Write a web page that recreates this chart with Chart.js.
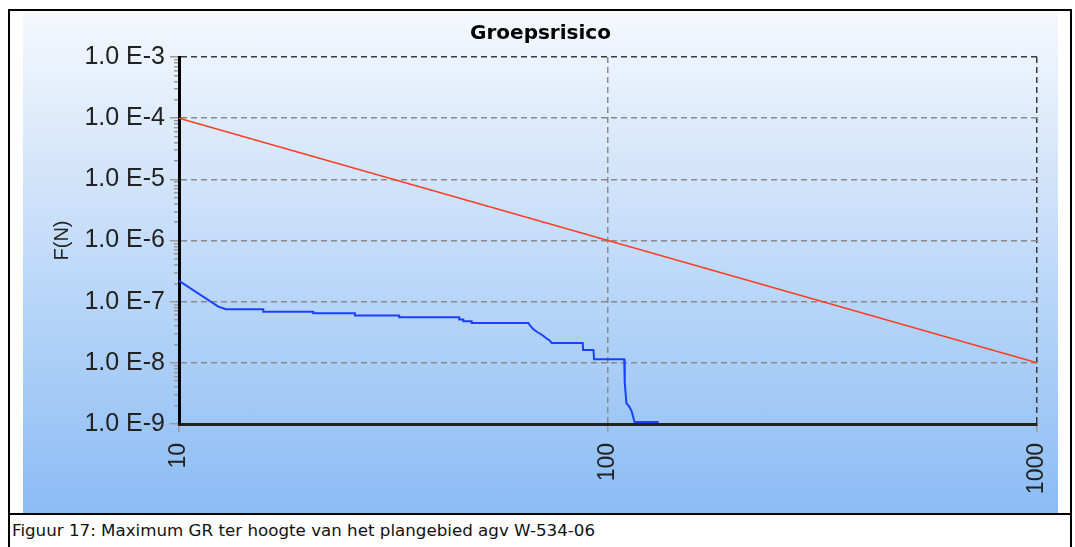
<!DOCTYPE html>
<html><head><meta charset="utf-8">
<script src="https://cdn.jsdelivr.net/npm/chart.js@4.4.1/dist/chart.umd.min.js"></script>
<style>
html,body{margin:0;padding:0;background:#fff;overflow:hidden;}
#frame{position:absolute;left:8px;top:9px;width:1064px;height:600px;border:2px solid #000;box-sizing:border-box;}
#wrap{position:absolute;left:23px;top:12px;width:1035px;height:501px;background:linear-gradient(to bottom,#f5f8fd 0%,#8bbcf4 100%);}
#sep{position:absolute;left:8px;top:513px;width:1064px;height:2px;background:#000;}
#caption{position:absolute;left:12px;top:520px;font-family:'DejaVu Sans',Verdana,sans-serif;font-size:16.7px;color:#111;white-space:nowrap;}
</style></head>
<body>
<div id="frame"></div>
<div id="wrap"><canvas id="c" width="1035" height="501"></canvas></div>
<div id="sep"></div>
<div id="caption">Figuur 17: Maximum GR ter hoogte van het plangebied agv W-534-06</div>
<script>
// ---- data ----
const xTickValues = [10, 100, 1000];
const xTickLabels = ['10', '100', '1000'];
const yTickValues = [1e-9, 1e-8, 1e-7, 1e-6, 1e-5, 1e-4, 1e-3];
const yTickLabels = ['1.0 E-9', '1.0 E-8', '1.0 E-7', '1.0 E-6', '1.0 E-5', '1.0 E-4', '1.0 E-3'];
const yMinorMultipliers = [2, 3, 4, 5, 6, 7, 8, 9];

// orientatiewaarde (limit line)
const limitN = [10, 1000];
const limitF = [1e-4, 1e-8];

// groepsrisico curve
const grN = [10, 12.35, 12.87, 15.72, 15.72, 20.56, 20.56, 25.7, 25.7, 32.6, 32.6, 45.0, 45.0, 46.0, 46.0, 48.1, 48.1, 65.2, 65.8, 67.0, 68.4, 70.1, 71.7, 73.2, 73.9, 87.3, 87.5, 92.5, 92.8, 109.1, 109.4, 110.4, 112.1, 113.6, 115.3, 131.2];
const grF = [2.2e-7, 8.28e-8, 7.5e-8, 7.5e-8, 6.86e-8, 6.86e-8, 6.45e-8, 6.45e-8, 5.94e-8, 5.94e-8, 5.55e-8, 5.55e-8, 5.11e-8, 5.11e-8, 4.78e-8, 4.78e-8, 4.48e-8, 4.48e-8, 4.11e-8, 3.53e-8, 3.19e-8, 2.88e-8, 2.55e-8, 2.30e-8, 2.11e-8, 2.11e-8, 1.62e-8, 1.62e-8, 1.14e-8, 1.14e-8, 4.73e-9, 2.18e-9, 1.92e-9, 1.59e-9, 1.08e-9, 1.08e-9];

// ---- helpers ----
function isMajor(v) {
  const l = Math.log10(v);
  return Math.abs(l - Math.round(l)) < 1e-6;
}
function sameVal(a, b) { return Math.abs(Math.log10(a) - Math.log10(b)) < 1e-6; }

const ctx = document.getElementById('c').getContext('2d');
new Chart(ctx, {
  type: 'line',
  data: {
    datasets: [
      {
        data: limitN.map((n, i) => ({x: n, y: limitF[i]})),
        borderColor: '#ff3a1e', borderWidth: 1.6, pointRadius: 0, tension: 0, fill: false
      },
      {
        data: grN.map((n, i) => ({x: n, y: grF[i]})),
        borderColor: '#1a40ff', borderWidth: 2, pointRadius: 0, tension: 0, fill: false
      }
    ]
  },
  options: {
    responsive: false,
    animation: false,
    events: [],
    layout: {padding: {left: 0, right: 0, top: 0, bottom: 0}},
    plugins: {
      legend: {display: false},
      tooltip: {enabled: false},
      title: {
        display: true, text: 'Groepsrisico', color: '#000',
        font: {family: 'DejaVu Sans', size: 20, weight: 'bold', lineHeight: 1.2},
        padding: {top: 10, bottom: 11}
      }
    },
    scales: {
      x: {
        type: 'logarithmic', min: 10, max: 1000,
        afterBuildTicks: s => { s.ticks = xTickValues.map(v => ({value: v, major: true})); },
        afterFit: s => { s.height = 89; s.paddingRight = 21; s.paddingLeft = 0; },
        ticks: {
          autoSkip: false, minRotation: 90, maxRotation: 90, padding: 11,
          color: '#222', font: {family: 'Liberation Sans', size: 23},
          callback: (v) => { const i = xTickValues.findIndex(t => sameVal(t, v)); return i >= 0 ? xTickLabels[i] : ''; }
        },
        grid: {
          color: c => (c.tick && sameVal(c.tick.value, 10)) ? 'rgba(0,0,0,0)' : (c.tick && sameVal(c.tick.value, 1000) ? '#3a3a3a' : '#8a8a8a'),
          lineWidth: 1.5, tickColor: '#9a9a9a', tickLength: 8, drawTicks: true
        },
        border: {display: true, color: '#222', width: 3, dash: [6, 4]}
      },
      y: {
        type: 'logarithmic', min: 1e-9, max: 1e-3,
        afterBuildTicks: s => {
          const t = [];
          for (let e = -9; e <= -4; e++) {
            t.push({value: Math.pow(10, e), major: true});
            yMinorMultipliers.forEach(m => t.push({value: m * Math.pow(10, e), major: false}));
          }
          t.push({value: 1e-3, major: true});
          s.ticks = t;
        },
        afterFit: s => { s.width = 156; },
        ticks: {
          autoSkip: false, padding: 5, color: '#222',
          font: {family: 'Liberation Sans', size: 25},
          callback: (v) => { const i = yTickValues.findIndex(t => sameVal(t, v)); return i >= 0 ? yTickLabels[i] : ''; }
        },
        grid: {
          color: c => {
            if (!c.tick) return '#8a8a8a';
            const v = c.tick.value;
            if (!isMajor(v)) return 'rgba(0,0,0,0)';
            if (sameVal(v, 1e-3) || sameVal(v, 1e-9)) return '#3a3a3a';
            return '#8a8a8a';
          },
          lineWidth: 1.5, tickLength: 9, drawTicks: true,
          tickColor: '#9a9a9a',
          tickBorderDash: c => (c.tick && !isMajor(c.tick.value)) ? [4, 4] : [],
          tickBorderDashOffset: c => (c.tick && !isMajor(c.tick.value)) ? 4 : 0
        },
        border: {display: true, color: '#000', width: 3, dash: [6, 4]},
        title: {
          display: true, text: 'F(N)', color: '#222',
          font: {family: 'Liberation Sans', size: 20, lineHeight: 1.2},
          padding: {top: 27, bottom: 0}
        }
      }
    }
  }
});
</script>
</body></html>
